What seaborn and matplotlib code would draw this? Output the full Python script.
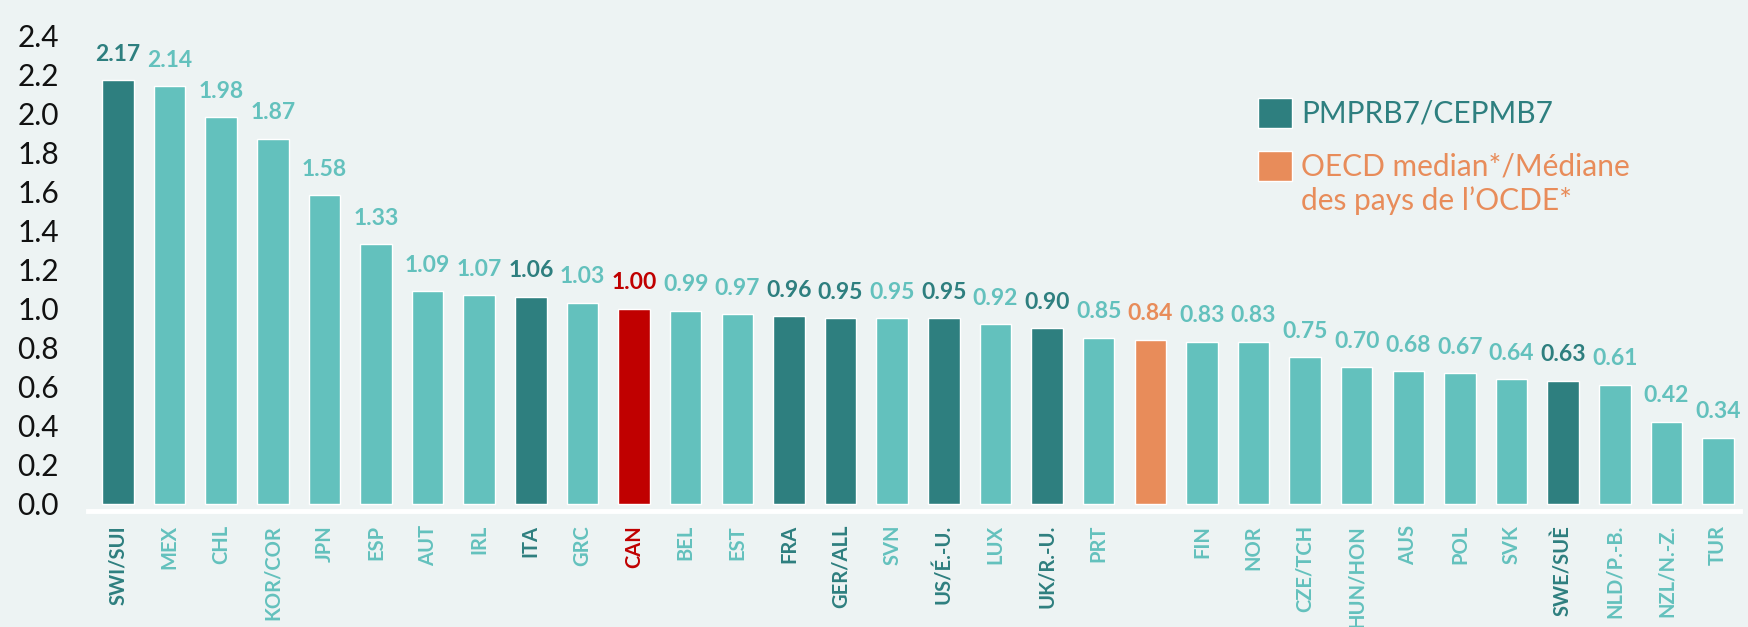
import matplotlib
matplotlib.use("Agg")
import matplotlib.pyplot as plt
from matplotlib.patches import Patch
import pandas as pd
import seaborn as sns

# values
countries = ["SWI/SUI", "MEX", "CHL", "KOR/COR", "JPN", "ESP", "AUT", "IRL", "ITA", "GRC",
             "CAN", "BEL", "EST", "FRA", "GER/ALL", "SVN", "US/É.-U.", "LUX", "UK/R.-U.", "PRT",
             "OECD", "FIN", "NOR", "CZE/TCH", "HUN/HON", "AUS", "POL", "SVK", "SWE/SUÈ",
             "NLD/P.-B.", "NZL/N.-Z.", "TUR"]
values = [2.17, 2.14, 1.98, 1.87, 1.58, 1.33, 1.09, 1.07, 1.06, 1.03,
          1.00, 0.99, 0.97, 0.96, 0.95, 0.95, 0.95, 0.92, 0.90, 0.85,
          0.84, 0.83, 0.83, 0.75, 0.70, 0.68, 0.67, 0.64, 0.63,
          0.61, 0.42, 0.34]
groups = ["pmprb7", "other", "other", "other", "other", "other", "other", "other", "pmprb7", "other",
          "canada", "other", "other", "pmprb7", "pmprb7", "other", "pmprb7", "other", "pmprb7", "other",
          "median", "other", "other", "other", "other", "other", "other", "other", "pmprb7",
          "other", "other", "other"]
tick_labels = [c if c != "OECD" else "" for c in countries]

legend_labels = ["PMPRB7/CEPMB7", "OECD median*/Médiane", "des pays de l’OCDE*"]

BG = "#edf3f3"
palette = {"pmprb7": "#2e7f7f", "other": "#63c1bd", "canada": "#c00000", "median": "#e88c5a"}

df = pd.DataFrame({"country": countries, "value": values, "group": groups})

sns.set_theme(style="white")
plt.rcParams["font.family"] = ["Lato", "DejaVu Sans"]

fig = plt.figure(figsize=(17.49, 6.27), dpi=100, facecolor=BG)
ax = fig.add_axes([0.0503, 0.185, 0.9447, 0.815])
ax.set_facecolor(BG)

sns.barplot(data=df, x="country", y="value", hue="group", palette=palette,
            order=countries, dodge=False, width=0.61, saturation=1,
            legend=False, ax=ax)

ax.set_xlim(-0.58, 31.43)
ax.set_ylim(-0.036, 2.58)
ax.set_yticks([i / 10 for i in range(0, 25, 2)])
ax.set_yticklabels([f"{i / 10:.1f}" for i in range(0, 25, 2)])
ax.tick_params(axis="y", length=0, pad=21, labelsize=21.5, labelcolor="#111111")
ax.tick_params(axis="x", length=0, pad=10)

ax.set_xticks(range(len(countries)))
ax.set_xticklabels(tick_labels, rotation=90, ha="center", va="top",
                   fontsize=14.5, fontweight="bold")
for lab, g in zip(ax.get_xticklabels(), groups):
    lab.set_color(palette[g])

ax.set_xlabel("")
ax.set_ylabel("")
for s in ["left", "right", "top"]:
    ax.spines[s].set_visible(False)
ax.spines["bottom"].set_color("white")
ax.spines["bottom"].set_linewidth(3.5)

for i, (v, g) in enumerate(zip(values, groups)):
    ax.annotate(f"{v:.2f}", (i, v), xytext=(0, 14), textcoords="offset points",
                ha="center", va="baseline", fontsize=16.5, fontweight="bold",
                color=palette[g])

# legend: one entry for PMPRB7, then the two-line OECD median entry
leg_opts = dict(loc="upper left", frameon=False, fontsize=21.5, borderpad=0,
                borderaxespad=0, handlelength=1.15, handleheight=1.15,
                handletextpad=0.3)
leg1 = fig.legend([Patch(facecolor=palette["pmprb7"])], legend_labels[:1],
                  bbox_to_anchor=(1258 / 1749, 1 - 98 / 627), **leg_opts)
leg1.get_texts()[0].set_color(palette["pmprb7"])
leg2 = fig.legend([Patch(facecolor=palette["median"]), Patch(facecolor="none", edgecolor="none")],
                  legend_labels[1:], bbox_to_anchor=(1258 / 1749, 1 - 151 / 627),
                  labelspacing=0.15, **leg_opts)
for t in leg2.get_texts():
    t.set_color(palette["median"])

fig.savefig("out.png", dpi=100, facecolor=BG)
